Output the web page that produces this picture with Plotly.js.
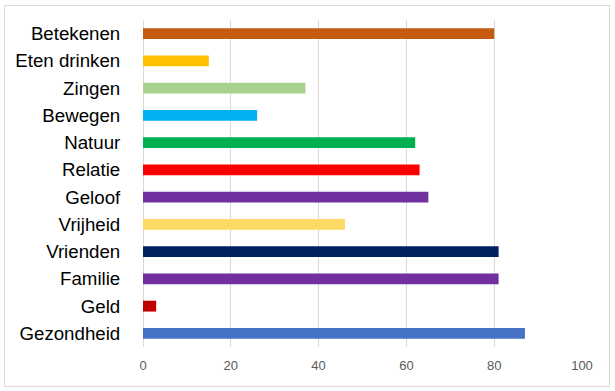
<!DOCTYPE html>
<html>
<head>
<meta charset="utf-8">
<script src="https://cdn.plot.ly/plotly-3.0.1.min.js"></script>
<style>
  html, body { margin: 0; padding: 0; background: #fff; }
  #wrap { position: relative; width: 615px; height: 391px; }
  #chart { position: absolute; left: 0; top: 0; width: 615px; height: 391px; }
  #frame { position: absolute; left: 4px; top: 5px; width: 604px; height: 380px; border: 1px solid #d9d9d9; pointer-events: none; }
</style>
</head>
<body>
<div id="wrap">
  <div id="chart"></div>
  <div id="frame"></div>
</div>
<script>
const categories = ["Betekenen", "Eten drinken", "Zingen", "Bewegen", "Natuur", "Relatie", "Geloof", "Vrijheid", "Vrienden", "Familie", "Geld", "Gezondheid"];
const values = [80, 15, 37, 26, 62, 63, 65, 46, 81, 81, 3, 87];
const barColors = ["#C55A11", "#FFC000", "#A9D18E", "#00B0F0", "#00B050", "#FF0000", "#7030A0", "#FFD966", "#002060", "#7030A0", "#C00000", "#4472C4"];
const xTicks = [0, 20, 40, 60, 80, 100];

const trace = {
  type: "bar",
  orientation: "h",
  x: values,
  y: categories,
  marker: { color: barColors, line: { width: 0 } },
  hoverinfo: "x+y"
};

const layout = {
  width: 615,
  height: 391,
  margin: { l: 143, r: 33, t: 20, b: 44, pad: 0 },
  paper_bgcolor: "#ffffff",
  plot_bgcolor: "#ffffff",
  bargap: 0.6,
  showlegend: false,
  font: { family: "Liberation Sans, Arial, sans-serif" },
  xaxis: {
    range: [0, 100],
    tickvals: xTicks,
    ticktext: xTicks.map(String),
    showgrid: true,
    gridcolor: "#d9d9d9",
    gridwidth: 1,
    zeroline: true,
    zerolinecolor: "#d9d9d9",
    zerolinewidth: 1,
    showline: false,
    ticks: "outside",
    ticklen: 6,
    tickcolor: "rgba(0,0,0,0)",
    tickfont: { family: "Liberation Sans, Arial, sans-serif", size: 13, color: "#595959" },
    fixedrange: true
  },
  yaxis: {
    type: "category",
    autorange: "reversed",
    showgrid: false,
    zeroline: false,
    showline: false,
    ticks: "outside",
    ticklen: 18,
    tickcolor: "rgba(0,0,0,0)",
    tickfont: { family: "Liberation Sans, Arial, sans-serif", size: 18.7, color: "#000000" },
    fixedrange: true
  }
};

Plotly.newPlot("chart", [trace], layout, { displayModeBar: false, staticPlot: true });
</script>
</body>
</html>
